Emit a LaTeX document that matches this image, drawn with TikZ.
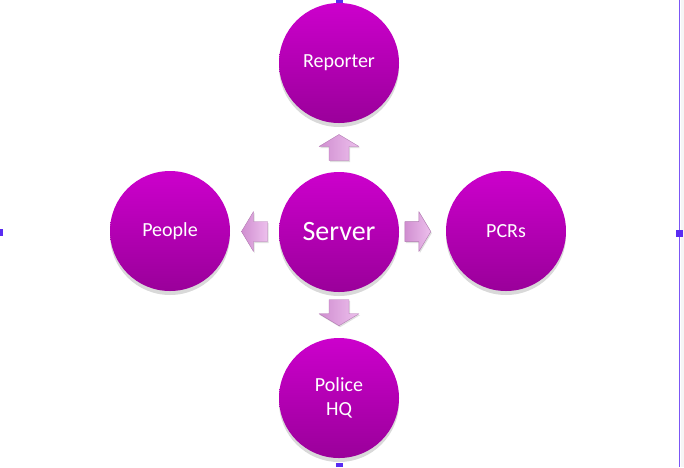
\documentclass[tikz,border=0pt]{standalone}
\usepackage{fontspec}
\setmainfont{Carlito}
\usetikzlibrary{calc,shadows,positioning}
\definecolor{bubtop}{HTML}{CC00CC}
\definecolor{bubbot}{HTML}{9A009A}
\definecolor{arrtop}{HTML}{EDC0ED}
\definecolor{arrbot}{HTML}{D08ED0}
\definecolor{handle}{HTML}{5A2CF2}
\tikzset{
  bubble/.style={circle,minimum size=120pt,inner sep=0pt,top color=bubtop,bottom color=bubbot,
    text=white,align=center,font=\fontsize{20}{24}\selectfont,
    drop shadow={shadow xshift=0pt,shadow yshift=-4pt,opacity=.3}},
  fatarrow/.pic={
    \path[left color=arrbot,right color=arrtop,draw=arrbot!85!black,line width=0.4pt,
      drop shadow={shadow xshift=1pt,shadow yshift=-1.5pt,opacity=.25}]
      (-13,-10)--(1,-10)--(1,-20)--(13,0)--(1,20)--(1,10)--(-13,10)--cycle;},
  grip/.style={fill=handle}
}
\begin{document}
\begin{tikzpicture}[x=1pt,y=-1pt,line join=round]
	\useasboundingbox (0,0) rectangle (684,467);
	% selection frame
	\fill[gray!8] (681,0) rectangle (684,467);
	\draw[handle!80,line width=1.6pt] (679.5,0)--(679.5,467);
	\fill[grip] (336,0) rectangle (343,3);
	\fill[grip] (0,229) rectangle (3,236);
	\fill[grip] (676,230) rectangle (683,237);
	\fill[grip] (336,463) rectangle (343,467);
	% bubbles
	\node[bubble,font=\fontsize{28}{30}\selectfont] (server) at (339,232) {Server};
	\node[bubble] (reporter) at (339,63) {Reporter};
	\node[bubble] (people) at (170,231) {People};
	\node[bubble] (pcrs) at (506,231) {PCRs};
	\node[bubble] (hq) at (339,398) {Police\\HQ};
	% arrows
	\pic[rotate=90] at ($(server.north)!0.5!(reporter.south)$) {fatarrow};
	\pic[rotate=180] at ($(server.west)!0.5!(people.east)$) {fatarrow};
	\pic at ($(server.east)!0.4!(pcrs.west)$) {fatarrow};
	\pic[rotate=-90] at ($(server.south)!0.45!(hq.north)$) {fatarrow};
\end{tikzpicture}
\end{document}
